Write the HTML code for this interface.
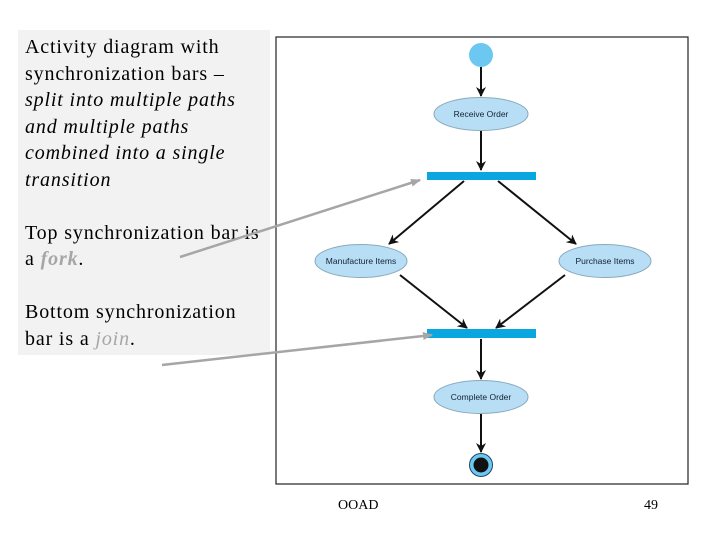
<!DOCTYPE html>
<html><head><style>
body{margin:0;width:720px;height:540px;background:#fff;position:relative;overflow:hidden;font-family:"Liberation Serif",serif}
#box{position:absolute;left:18px;top:30px;width:252px;height:325px;background:#f2f2f2}
#txt{position:absolute;left:25px;top:34px;font-size:20px;letter-spacing:0.85px;line-height:26.5px;color:#000;white-space:nowrap}
.g{color:#a6a6a6;font-weight:bold;font-style:italic}
</style></head><body>
<div id="box"></div>
<div id="txt">Activity diagram with<br>synchronization bars –<br><i>split into multiple paths<br>and multiple paths<br>combined into a single<br>transition</i><br><br>Top synchronization bar is<br>a <span class="g">fork</span>.<br><br>Bottom synchronization<br>bar is a <span class="g" style="font-weight:normal">join</span>.</div>
<svg width="720" height="540" style="position:absolute;left:0;top:0">
<defs>
<marker id="a" markerWidth="10" markerHeight="10" refX="9" refY="5" orient="auto" markerUnits="userSpaceOnUse"><path d="M0,0 L10,5 L0,10 L3,5z" fill="#111"/></marker>
<marker id="g" markerWidth="10" markerHeight="10" refX="9" refY="5" orient="auto" markerUnits="userSpaceOnUse"><path d="M0,1 L10,5 L0,9z" fill="#a6a6a6"/></marker>
</defs>
<rect x="276" y="37" width="412" height="447" fill="#fff" stroke="#222" stroke-width="1.2"/>
<g stroke="#111" stroke-width="2" fill="none">
<line x1="481" y1="67" x2="481" y2="96" marker-end="url(#a)"/>
<line x1="481" y1="131" x2="481" y2="170" marker-end="url(#a)"/>
<line x1="464" y1="181" x2="389" y2="244" marker-end="url(#a)"/>
<line x1="498" y1="181" x2="576" y2="244" marker-end="url(#a)"/>
<line x1="400" y1="275" x2="467" y2="328" marker-end="url(#a)"/>
<line x1="565" y1="275" x2="496" y2="328" marker-end="url(#a)"/>
<line x1="481" y1="339" x2="481" y2="379" marker-end="url(#a)"/>
<line x1="481" y1="414" x2="481" y2="452" marker-end="url(#a)"/>
</g>
<circle cx="481" cy="55" r="12" fill="#6cc8f0"/>
<g fill="#b8def5" stroke="#8ab" stroke-width="1">
<ellipse cx="481" cy="114" rx="47" ry="16.5"/>
<ellipse cx="361" cy="261" rx="46" ry="16.5"/>
<ellipse cx="605" cy="261" rx="46" ry="16.5"/>
<ellipse cx="481" cy="397" rx="47" ry="16.5"/>
</g>
<g font-family="Liberation Sans,sans-serif" font-size="8.5" text-anchor="middle" fill="#123">
<text x="481" y="117">Receive Order</text>
<text x="361" y="264">Manufacture Items</text>
<text x="605" y="264">Purchase Items</text>
<text x="481" y="400">Complete Order</text>
</g>
<rect x="427" y="172" width="109" height="8" fill="#0aa6e0"/>
<rect x="427" y="329" width="109" height="9" fill="#0aa6e0"/>
<circle cx="481" cy="465" r="11.5" fill="#6cc8f0" stroke="#246" stroke-width="1"/>
<circle cx="481" cy="465" r="7.5" fill="#111"/>
<g stroke="#a6a6a6" stroke-width="2.5">
<line x1="180" y1="257" x2="420" y2="180" marker-end="url(#g)"/>
<line x1="162" y1="365" x2="432" y2="335" marker-end="url(#g)"/>
</g>
<g font-family="Liberation Serif,serif" font-size="14" fill="#000">
<text x="338" y="509">OOAD</text>
<text x="644" y="509">49</text>
</g>
</svg>
</body></html>
